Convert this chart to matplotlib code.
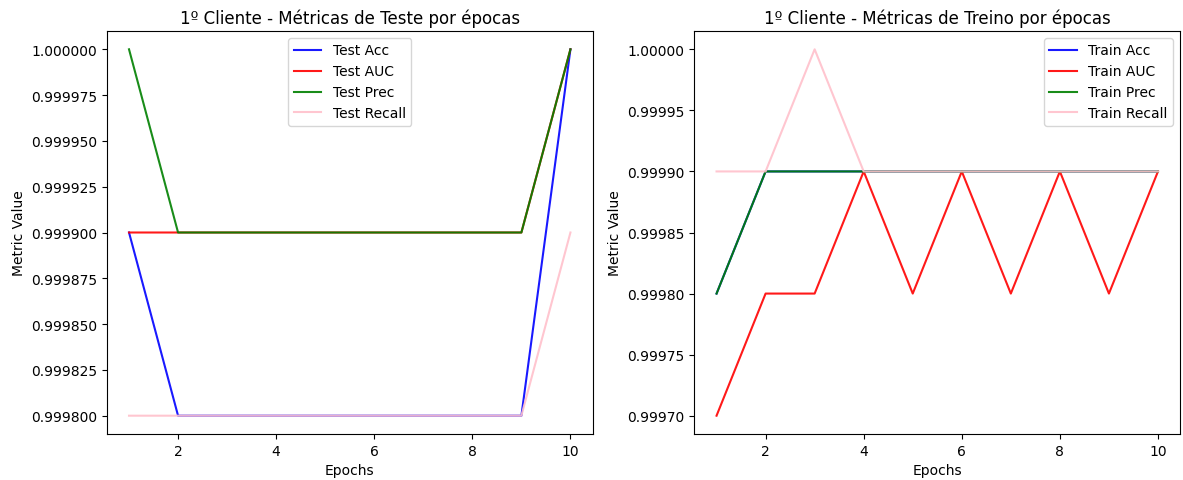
import matplotlib
matplotlib.use("Agg")
import matplotlib.pyplot as plt
from matplotlib.ticker import ScalarFormatter

epochs = list(range(1, 11))

test_acc = [0.9999, 0.9998, 0.9998, 0.9998, 0.9998, 0.9998, 0.9998, 0.9998, 0.9998, 1.0]
test_auc = [0.9999, 0.9999, 0.9999, 0.9999, 0.9999, 0.9999, 0.9999, 0.9999, 0.9999, 1.0]
test_prec = [1.0, 0.9999, 0.9999, 0.9999, 0.9999, 0.9999, 0.9999, 0.9999, 0.9999, 1.0]
test_recall = [0.9998, 0.9998, 0.9998, 0.9998, 0.9998, 0.9998, 0.9998, 0.9998, 0.9998, 0.9999]

train_acc = [0.9998, 0.9999, 0.9999, 0.9999, 0.9999, 0.9999, 0.9999, 0.9999, 0.9999, 0.9999]
train_auc = [0.9997, 0.9998, 0.9998, 0.9999, 0.9998, 0.9999, 0.9998, 0.9999, 0.9998, 0.9999]
train_prec = [0.9998, 0.9999, 0.9999, 0.9999, 0.9999, 0.9999, 0.9999, 0.9999, 0.9999, 0.9999]
train_recall = [0.9999, 0.9999, 1.0, 0.9999, 0.9999, 0.9999, 0.9999, 0.9999, 0.9999, 0.9999]

fig, axes = plt.subplots(1, 2, figsize=(11.83, 4.81), dpi=100)
fig.subplots_adjust(left=0.0904, right=0.9975, bottom=0.0956, top=0.9335, wspace=0.21)

ax = axes[0]
ax.plot(epochs, test_acc, color="blue", alpha=0.9, label="Test Acc")
ax.plot(epochs, test_auc, color="red", alpha=0.9, label="Test AUC")
ax.plot(epochs, test_prec, color="green", alpha=0.9, label="Test Prec")
ax.plot(epochs, test_recall, color="pink", alpha=0.9, label="Test Recall")
ax.set_title("1º Cliente - Métricas de Teste por épocas")
ax.set_xlabel("Epochs")
ax.set_ylabel("Metric Value")
ax.legend(loc="upper center")

ax = axes[1]
ax.plot(epochs, train_acc, color="blue", alpha=0.9, label="Train Acc")
ax.plot(epochs, train_auc, color="red", alpha=0.9, label="Train AUC")
ax.plot(epochs, train_prec, color="green", alpha=0.9, label="Train Prec")
ax.plot(epochs, train_recall, color="pink", alpha=0.9, label="Train Recall")
ax.set_title("1º Cliente - Métricas de Treino por épocas")
ax.set_xlabel("Epochs")
ax.set_ylabel("Metric Value")
ax.legend(loc="upper right")

for a in axes:
    a.yaxis.set_major_formatter(ScalarFormatter(useOffset=False))

plt.savefig("out.png", dpi=100)
